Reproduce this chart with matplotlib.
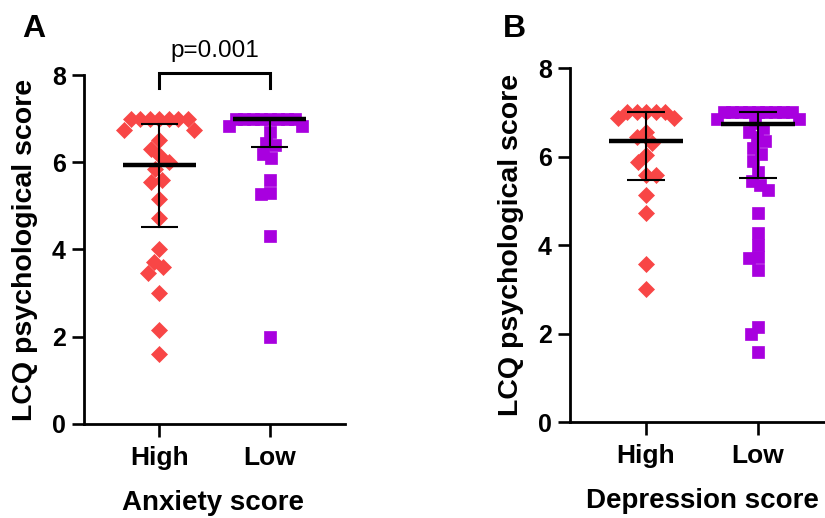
import numpy as np
import matplotlib.pyplot as plt

plt.rcParams['font.family'] = ['Liberation Sans', 'DejaVu Sans']

# values
groups = ["High", "Low"]

anx_high = [7.0, 7.0, 7.0, 7.0, 7.0, 7.0, 7.0, 6.74, 6.74, 6.5, 6.3, 6.15, 6.0,
            5.85, 5.6, 5.55, 5.15, 4.72, 4.0, 3.72, 3.6, 3.45, 3.0, 2.15, 1.6]
anx_low = [7.0, 7.0, 7.0, 7.0, 7.0, 7.0, 7.0, 7.0, 6.82, 6.82, 6.7, 6.45, 6.4,
           6.2, 6.1, 5.6, 5.3, 5.28, 4.3, 2.0]
dep_high = [7.0, 7.0, 7.0, 7.0, 7.0, 6.88, 6.88, 6.55, 6.45, 6.3, 6.03, 5.87,
            5.58, 5.58, 5.13, 4.72, 3.58, 3.0]
dep_low = [7.0, 7.0, 7.0, 7.0, 7.0, 7.0, 7.0, 7.0, 7.0, 6.85, 6.85, 6.75, 6.65,
           6.55, 6.45, 6.35, 6.2, 6.05, 5.9, 5.65, 5.45, 5.35, 5.25, 4.72, 4.28,
           4.0, 3.72, 3.7, 3.43, 2.15, 2.0, 1.58]

# median and interquartile range as drawn
anx_median = [5.93, 7.0]
anx_q1 = [4.52, 6.36]
anx_q3 = [6.87, 7.0]
dep_median = [6.35, 6.74]
dep_q1 = [5.46, 5.51]
dep_q3 = [7.0, 7.0]

p_text = "p=0.001"

RED = "#F84646"
PURPLE = "#A800DF"
DPI = 100


def swarm(vals, dxmin, dymin, ypx):
    # spread points sideways so markers do not pile up (pixel units)
    order = np.argsort(-np.asarray(vals), kind="stable")
    placed = []
    offs = np.zeros(len(vals))
    for i in order:
        y = vals[i] * ypx
        cands = [0.0]
        for (px, py) in placed:
            dy = y - py
            if abs(dy) < dymin:
                dx = dxmin * np.sqrt(1 - (dy / dymin) ** 2)
                cands += [px + dx, px - dx]
        cands.sort(key=lambda c: (round(abs(c), 6), c))
        for c in cands:
            ok = all(((c - px) / dxmin) ** 2 + ((y - py) / dymin) ** 2 >= 0.999
                     for (px, py) in placed)
            if ok:
                break
        placed.append((c, y))
        offs[i] = c
    return offs


def panel(ax, data, med, q1, q3, xlabel):
    ax.set_xlim(-0.68, 1.68)
    ax.set_ylim(0, 8)
    bb = ax.get_position()
    xpx = bb.width * fig.get_figwidth() * DPI / 2.36
    ypx = bb.height * fig.get_figheight() * DPI / 8
    styles = [("D", 8.4, RED, 9.5, 15.0), ("s", 9.0, PURPLE, 8.5, 12.0)]
    for i, vals in enumerate(data):
        m, ms, col, dxm, dym = styles[i]
        offs = swarm(vals, dxm, dym, ypx) / xpx
        ax.plot(i + offs, vals, ls="none", marker=m, ms=ms, color=col,
                mec=col, mew=0.5, zorder=2, clip_on=False)
        ax.plot([i - 0.33, i + 0.33], [med[i], med[i]], color="black", lw=3.2,
                zorder=4, solid_capstyle="butt")
        ax.plot([i, i], [q1[i], q3[i]], color="black", lw=1.5, zorder=4)
        for q in (q1[i], q3[i]):
            ax.plot([i - 0.167, i + 0.167], [q, q], color="black", lw=1.5,
                    zorder=4, solid_capstyle="butt")
    ax.set_xticks([0, 1])
    ax.set_xticklabels(groups, fontsize=19, fontweight="bold")
    ax.set_yticks([0, 2, 4, 6, 8])
    ax.set_yticklabels(["0", "2", "4", "6", "8"], fontsize=18, fontweight="bold")
    ax.tick_params(axis="y", length=9, width=1.9, pad=4)
    ax.tick_params(axis="x", length=9, width=1.9, pad=7)
    for s in ("top", "right"):
        ax.spines[s].set_visible(False)
    for s in ("left", "bottom"):
        ax.spines[s].set_linewidth(2.0)
    ax.set_ylabel("LCQ psychological score", fontsize=20.5, fontweight="bold")
    ax.yaxis.label.set_va("center")
    ax.set_xlabel(xlabel, fontsize=20, fontweight="bold")
    ax.xaxis.label.set_va("baseline")


fig = plt.figure(figsize=(8.25, 5.18), dpi=DPI)
axA = fig.add_axes([0.1018, 0.1815, 0.3164, 0.6737])
axB = fig.add_axes([0.6909, 0.1853, 0.3200, 0.6834])

panel(axA, [anx_high, anx_low], anx_median, anx_q1, anx_q3, "Anxiety score")
panel(axB, [dep_high, dep_low], dep_median, dep_q1, dep_q3, "Depression score")

axA.yaxis.set_label_coords(-0.226, 0.5)
axA.xaxis.set_label_coords(0.494, -0.246)
axB.yaxis.set_label_coords(-0.225, 0.5)
axB.xaxis.set_label_coords(0.5, -0.243)

# significance bracket
axA.plot([0, 0, 1, 1], [7.70, 8.05, 8.05, 7.70], color="black", lw=2.2,
         clip_on=False, solid_joinstyle="miter")
axA.text(0.5, 8.41, p_text, ha="center", va="baseline", fontsize=17.5,
         clip_on=False)

fig.text(0.041, 0.9286, "A", ha="center", va="baseline", fontsize=23,
         fontweight="bold")
fig.text(0.624, 0.9286, "B", ha="center", va="baseline", fontsize=23,
         fontweight="bold")

fig.savefig("out.png", dpi=DPI, facecolor="white")
